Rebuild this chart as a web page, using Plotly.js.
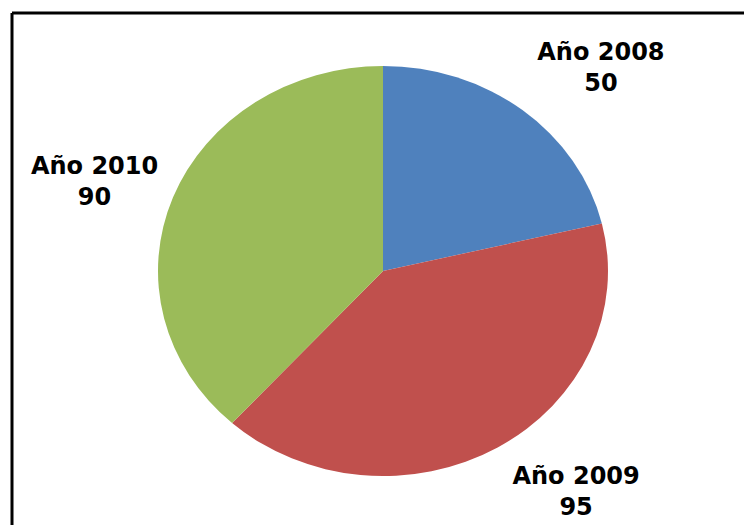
<!DOCTYPE html>
<html><head><meta charset="utf-8">
<script src="https://cdn.plot.ly/plotly-3.0.1.min.js"></script>
<style>html,body{margin:0;padding:0;background:#fff}#c{width:744px;height:525px}</style>
</head><body><div id="c"></div>
<script>
const labels = ["Año 2008", "Año 2009", "Año 2010"];
const values = [50, 95, 90];
const colors = ["#4F81BD", "#C0504D", "#9BBB59"];

const W = 744, H = 525;
const cx = 383, cy = 271, r = 225;
const squash = 205 / 225;
const labelNudgeY = [-9, 5, -5];

Plotly.newPlot("c", [{
  type: "pie",
  labels: labels,
  values: values,
  sort: false,
  direction: "clockwise",
  rotation: 0,
  marker: {colors: colors, line: {width: 0}},
  textposition: "outside",
  texttemplate: "%{label}<br>%{value}",
  textfont: {family: "DejaVu Sans", size: 24, color: "#000", weight: "bold"},
  domain: {x: [(cx - r) / W, (cx + r) / W], y: [(H - cy - r) / H, (H - cy + r) / H]},
  showlegend: false,
  hoverinfo: "none"
}], {
  width: W, height: H,
  margin: {l: 0, r: 0, t: 0, b: 0},
  paper_bgcolor: "#fff",
  showlegend: false,
  shapes: [
    {type: "line", xref: "paper", yref: "paper", x0: 12 / W, x1: 1.01, y0: (H - 13) / H, y1: (H - 13) / H, line: {color: "#000", width: 3}},
    {type: "line", xref: "paper", yref: "paper", x0: 12 / W, x1: 12 / W, y0: -0.01, y1: (H - 13) / H, line: {color: "#000", width: 3}}
  ]
}, {displayModeBar: false, staticPlot: true}).then(function (gd) {
  // Excel-style slightly elliptical pie: squash slices vertically about the centre
  gd.querySelectorAll(".pielayer path.surface").forEach(function (p) {
    p.setAttribute("transform", "translate(0," + (cy * (1 - squash)) + ") scale(1," + squash + ")");
  });
  gd.querySelectorAll(".pielayer g.slice").forEach(function (s, i) {
    const t = s.querySelector("g.slicetext");
    if (t) {
      const prev = t.getAttribute("transform") || "";
      t.setAttribute("transform", "translate(0," + labelNudgeY[i] + ") " + prev);
    }
  });
});
</script>
</body></html>
